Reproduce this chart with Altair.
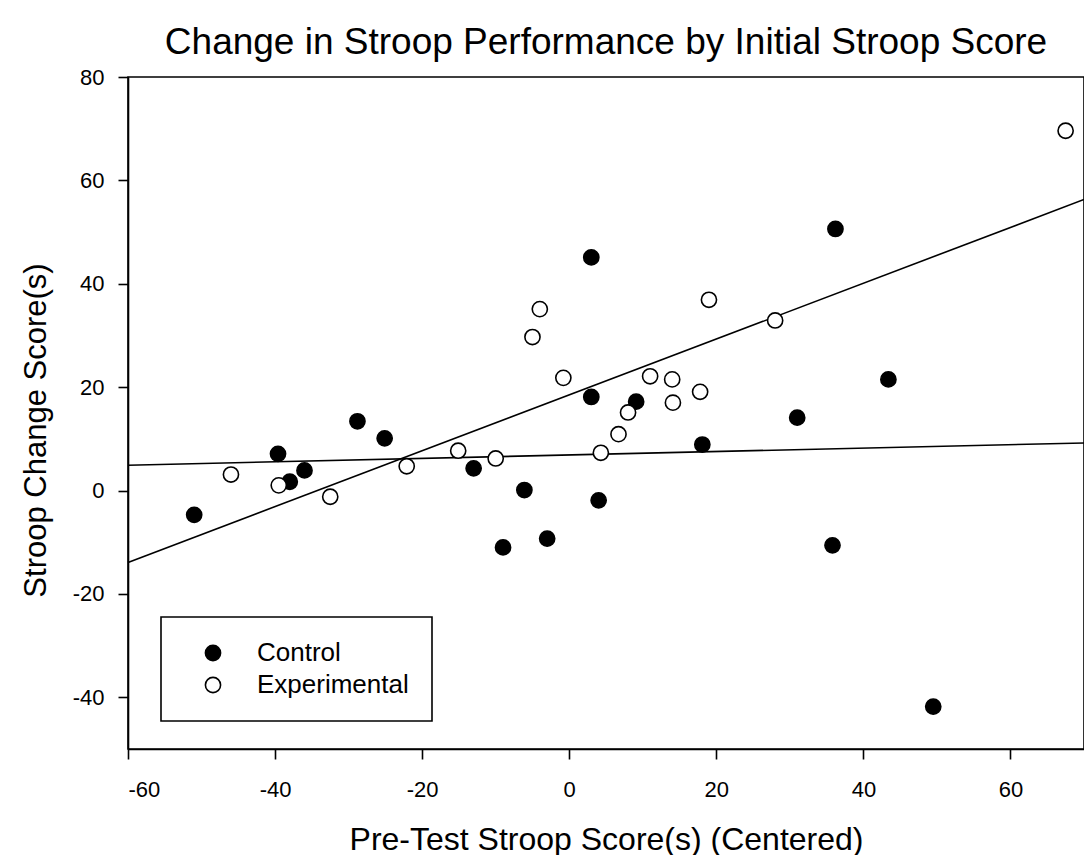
import altair as alt
import pandas as pd

# Data
ctrl_x = [-51.0, -39.6, -38.0, -36.0, -28.8, -25.1, -13.0, -9.0, -6.1, -3.0,
          3.0, 3.0, 4.0, 9.1, 18.1, 31.0, 35.8, 36.2, 43.4, 49.5]
ctrl_y = [-4.7, 7.1, 1.7, 3.9, 13.4, 10.1, 4.3, -11.0, 0.1, -9.3,
          45.1, 18.1, -1.9, 17.2, 8.9, 14.1, -10.6, 50.6, 21.5, -41.8]

exp_x = [-46.0, -39.5, -32.5, -22.1, -15.1, -10.0, -5.0, -4.0, -0.8, 4.3,
         6.7, 8.0, 11.0, 14.0, 14.1, 17.8, 19.0, 28.0, 67.5]
exp_y = [3.1, 1.0, -1.2, 4.7, 7.7, 6.2, 29.7, 35.1, 21.8, 7.3,
         10.9, 15.1, 22.1, 21.5, 17.0, 19.1, 36.9, 32.9, 69.6]

groups = ["Control", "Experimental"]

# Fitted regression lines (endpoints)
fit_x = [-60, 70]
ctrl_fit = [4.9, 9.2]
exp_fit = [-13.9, 56.3]

x_ticks = [-60, -40, -20, 0, 20, 40, 60]
y_ticks = [-40, -20, 0, 20, 40, 60, 80]

points = pd.DataFrame({
    "x": ctrl_x + exp_x,
    "y": ctrl_y + exp_y,
    "group": [groups[0]] * len(ctrl_x) + [groups[1]] * len(exp_x),
})
fits = pd.DataFrame({
    "x": fit_x + fit_x,
    "y": ctrl_fit + exp_fit,
    "group": [groups[0]] * 2 + [groups[1]] * 2,
})

FONT = "Liberation Sans"
xscale = alt.Scale(domain=[-60, 70], nice=False, zero=False)
yscale = alt.Scale(domain=[-50, 80], nice=False, zero=False)

xaxis = alt.Axis(values=x_ticks, title="Pre-Test Stroop Score(s) (Centered)",
                 grid=False, tickSize=10, labelPadding=20, titlePadding=24,
                 titleFontSize=32, labelExpr="toString(datum.value)")
yaxis = alt.Axis(values=y_ticks, title="Stroop Change Score(s)",
                 grid=False, tickSize=10, labelPadding=14, titlePadding=20,
                 titleFontSize=31, titleY=353, labelExpr="toString(datum.value)")

lines = alt.Chart(fits).mark_line(color="black", strokeWidth=1.6).encode(
    x=alt.X("x:Q", scale=xscale, axis=xaxis),
    y=alt.Y("y:Q", scale=yscale, axis=yaxis),
    detail="group:N",
)

pts = alt.Chart(points).mark_circle(size=230, stroke="black", strokeWidth=1.6, opacity=1).encode(
    x=alt.X("x:Q", scale=xscale, axis=xaxis),
    y=alt.Y("y:Q", scale=yscale, axis=yaxis),
    fill=alt.Fill("group:N",
                  scale=alt.Scale(domain=groups, range=["black", "white"]),
                  legend=alt.Legend(title=None, orient="none", legendX=33, legendY=540)),
)

chart = alt.layer(lines, pts).properties(
    width=956,
    height=672,
    title=alt.TitleParams("Change in Stroop Performance by Initial Stroop Score",
                          fontSize=37, font=FONT, fontWeight="normal", color="black",
                          anchor="middle", baseline="alphabetic", offset=26, dy=51),
    autosize=alt.AutoSizeParams(type="none"),
    padding={"left": 120, "top": 69, "right": 0, "bottom": 106},
).configure_view(
    stroke="black", strokeWidth=1.6
).configure_axis(
    domainColor="black", domainWidth=1.6, tickColor="black", tickWidth=1.6,
    labelColor="black", titleColor="black", labelFont=FONT, titleFont=FONT,
    labelFontSize=22, titleFontWeight="normal",
).configure_legend(
    strokeColor="black", strokeWidth=1.6, fillColor="white", padding=23,
    symbolOffset=16, labelOffset=31, rowPadding=6, labelFontSize=26,
    labelFont=FONT, labelColor="black", symbolSize=230, symbolType="circle",
    symbolStrokeColor="black", symbolStrokeWidth=1.6,
)

chart.save("out.html", embed_options={"renderer": "svg", "actions": False})
